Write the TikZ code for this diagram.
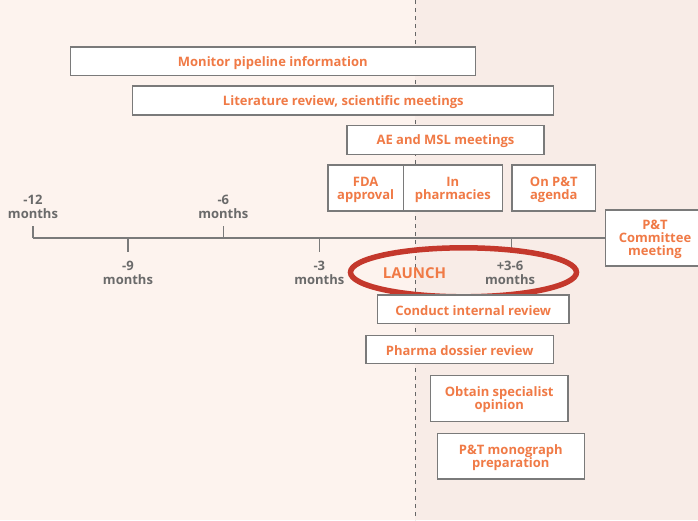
\documentclass[tikz,border=0pt]{standalone}
\usepackage{fontspec}
\usetikzlibrary{shapes.geometric}
\setmainfont{Open Sans}
\definecolor{bgL}{HTML}{FDF3EE}
\definecolor{bgR}{HTML}{F8ECE7}
\definecolor{org}{HTML}{F07A46}
\definecolor{gtx}{HTML}{6A6A6A}
\definecolor{gln}{HTML}{7A7A7A}
\definecolor{redc}{HTML}{C4382C}
\tikzset{
  box/.style={draw=gln, line width=1.2pt, fill=white, inner sep=0pt},
  btxt/.style={align=center, inner sep=0pt, yshift=-1.5pt,
    font=\fontsize{13}{13}\selectfont\bfseries, text=org},
  tlab/.style={align=center, inner sep=0pt, font=\fontsize{13}{14}\selectfont\bfseries, text=gtx},
  tick/.style={draw=gln, line width=1.2pt}
}
\begin{document}
\begin{tikzpicture}[x=1pt,y=-1pt]
\useasboundingbox (0,0) rectangle (698,520);
\fill[bgL] (0,0) rectangle (415,520);
\fill[bgR] (415,0) rectangle (698,520);
\draw[gray!80!black, line width=0.9pt, dash pattern=on 4pt off 4pt] (415,0) -- (415,520);

% top boxes
\node[box, minimum width=405, minimum height=28.5] (mon) at (272.8,61.2) {};
\node[btxt] (mont) at (mon) {Monitor pipeline information};
\node[box, minimum width=421, minimum height=29] (lit) at (343.3,100.5) {};
\node[btxt] (litt) at (lit) {Literature review, scientific meetings};
\node[box, minimum width=197, minimum height=28.5] (ae) at (445.5,140) {};
\node[btxt] (aet) at (ae) {AE and MSL meetings};
\node[box, minimum width=75.5, minimum height=46] (fda) at (365.7,188) {};
\node[btxt] (fdat) at (fda) {FDA\\approval};
\node[box, minimum width=99, minimum height=46] (pha) at (452.8,188) {};
\node[btxt] (phat) at (pha) {In\\pharmacies};
\node[box, minimum width=83.7, minimum height=46] (agd) at (553.8,188) {};
\node[btxt] (agdt) at (agd) {On P\&T\\agenda};
\node[box, minimum width=98.6, minimum height=56] (ptc) at (655,238) {};
\node[btxt] (ptct) at (ptc) {P\&T\\Committee\\meeting};

% timeline
\coordinate (t0) at (33,238);
\draw[tick] (t0) -- (ptc.west);
\coordinate (m12) at (33,238);   \coordinate (m12e) at (33,225.5);
\coordinate (m6) at (223.3,238); \coordinate (m6e) at (223.3,225.5);
\coordinate (m9) at (128,238);   \coordinate (m9e) at (128,251.5);
\coordinate (m3) at (319.3,238); \coordinate (m3e) at (319.3,251.5);
\coordinate (p3) at (511.7,238); \coordinate (p3e) at (511.7,251.5);
\draw[tick] (m12) -- (m12e);
\draw[tick] (m6) -- (m6e);
\draw[tick] (m9) -- (m9e);
\draw[tick] (m3) -- (m3e);
\draw[tick] (p3) -- (p3e);

\node[tlab] (l12) at (33,206.5) {-12\\months};
\node[tlab] (l6) at (223.3,206.5) {-6\\months};
\node[tlab] (l9) at (128,272.5) {-9\\months};
\node[tlab] (l3) at (319.3,272.5) {-3\\months};
\node[tlab] (l36) at (510,272.5) {+3-6\\months};
\node[tlab, text=org, font=\fontsize{15}{16}\selectfont\bfseries] (launch) at (414.5,273) {LAUNCH};

\node[draw=redc, line width=5.5pt, ellipse, minimum width=226, minimum height=49, inner sep=0pt] (ell) at (463.5,272.3) {};

% bottom boxes
\node[box, minimum width=191.7, minimum height=28.3] (cir) at (473.2,309.2) {};
\node[btxt] (cirt) at (cir) {Conduct internal review};
\node[box, minimum width=187.3, minimum height=28] (pdr) at (459.7,349.3) {};
\node[btxt] (pdrt) at (pdr) {Pharma dossier review};
\node[box, minimum width=137.7, minimum height=45.6] (oso) at (499.2,398.5) {};
\node[btxt] (osot) at (oso) {Obtain specialist\\opinion};
\node[box, minimum width=147, minimum height=45.7] (ptm) at (510.8,456.2) {};
\node[btxt] (ptmt) at (ptm) {P\&T monograph\\preparation};
\end{tikzpicture}
\end{document}
